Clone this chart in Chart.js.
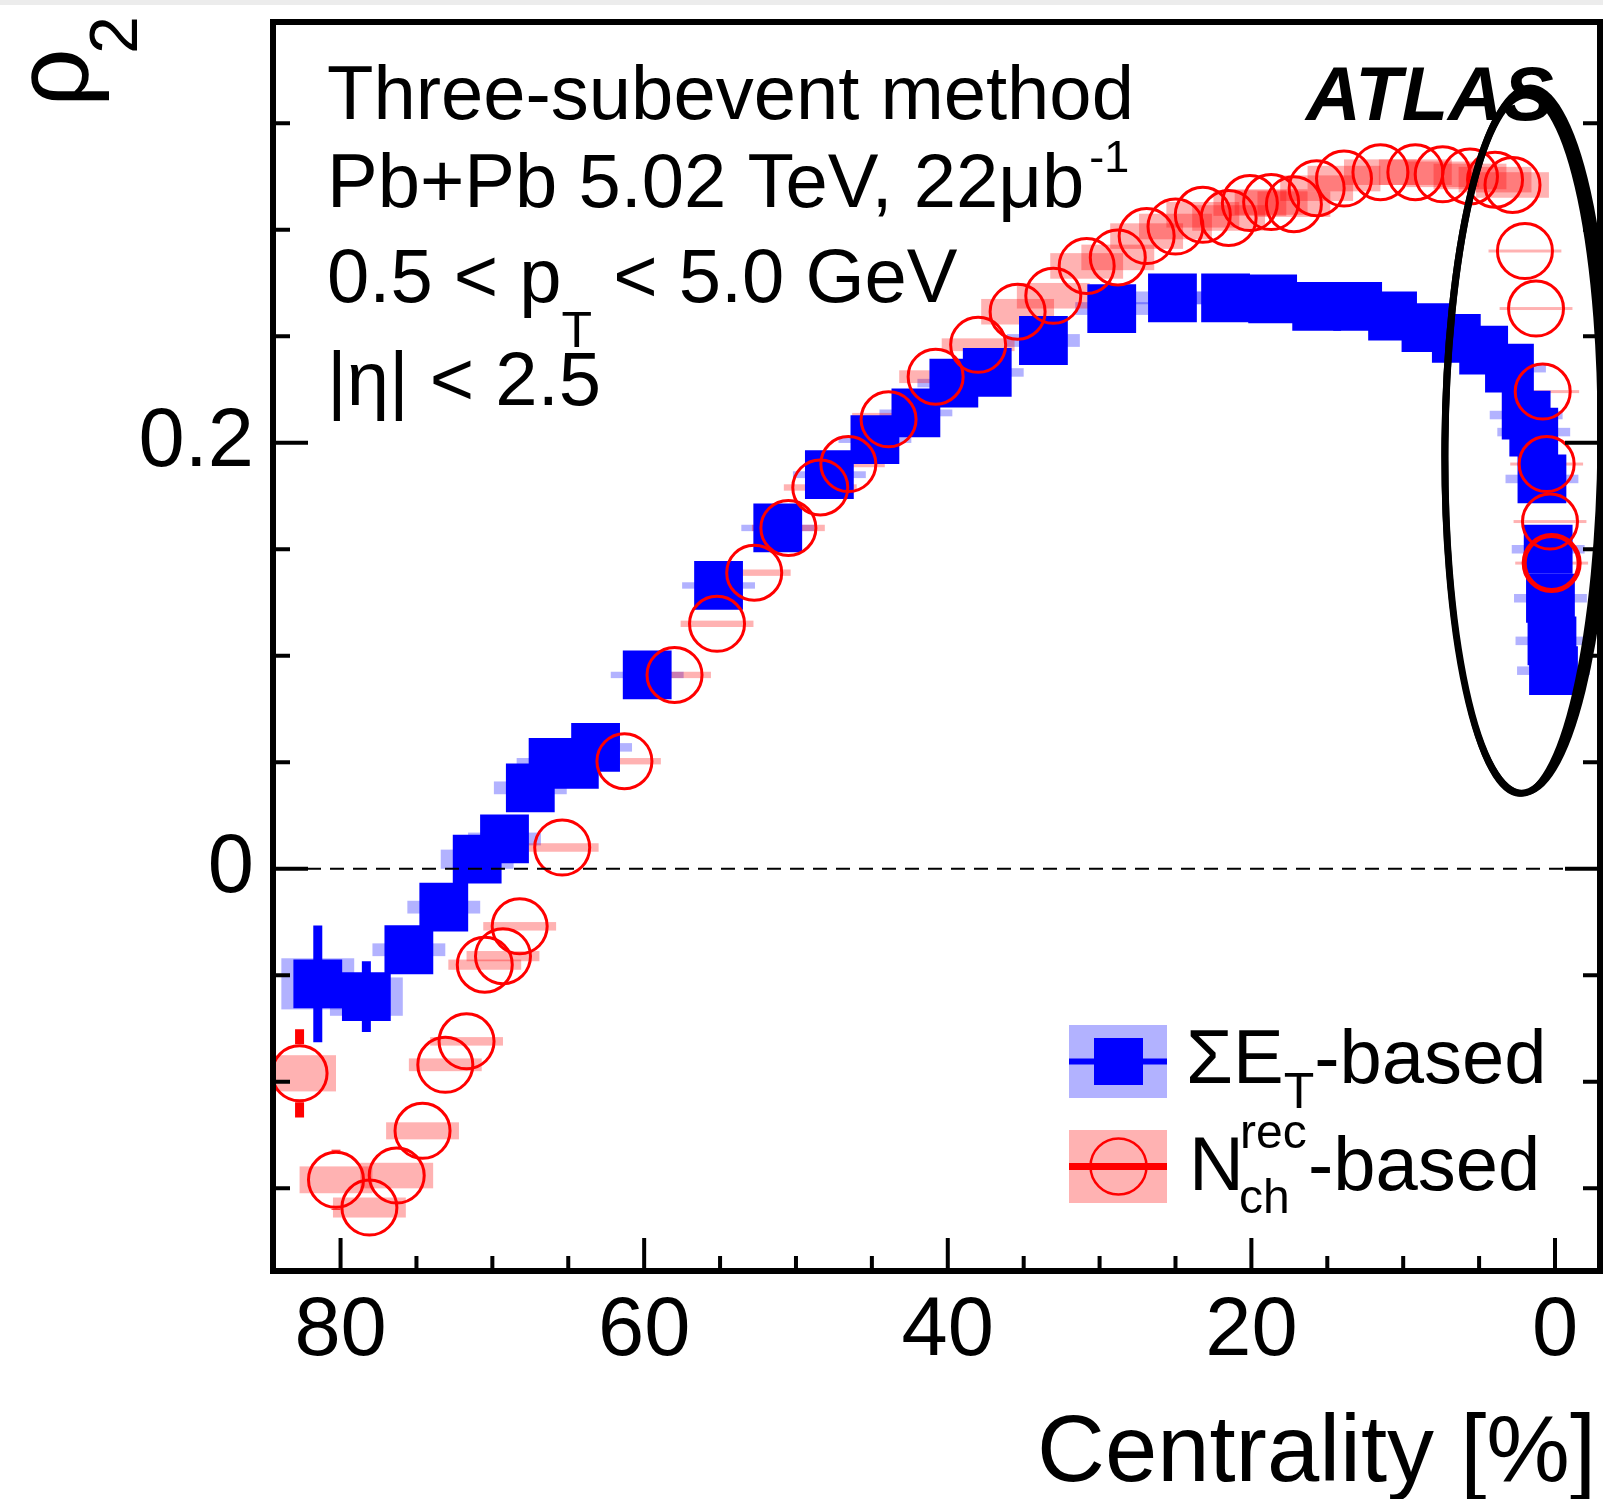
<!DOCTYPE html>
<html lang="en">
<head>
<meta charset="UTF-8">
<title>rho2 vs centrality</title>
<style>
    html, body { margin: 0; padding: 0; background: #fff; }
    #wrap { width: 1603px; height: 1499px; position: relative; }
</style>
</head>
<body>
<div id="wrap"><canvas id="rho2" width="1603" height="1499"></canvas></div>

<script src="https://cdn.jsdelivr.net/npm/chart.js"></script>
<script>
// ---- data ----
// Sum ET based centrality
var etCent = [81.5, 78.3, 75.5, 73.2, 71.0, 69.2, 67.5, 66.0, 64.6, 63.2,
              59.8, 55.1, 51.2, 47.8, 44.8, 42.1, 39.6, 37.4, 33.7, 29.2,
              25.2, 21.7, 18.6, 15.7, 13.0, 10.7, 8.5, 6.5, 4.7, 3.0,
              1.9, 1.4, 0.86, 0.45, 0.3, 0.2, 0.1];
var etRho = [-0.054, -0.060, -0.038, -0.018, 0.0045, 0.014, 0.038, 0.050, 0.049, 0.057,
             0.091, 0.133, 0.160, 0.185, 0.2015, 0.214, 0.228, 0.233, 0.248, 0.263,
             0.268, 0.268, 0.2675, 0.264, 0.264, 0.2595, 0.254, 0.249, 0.2435, 0.235,
             0.213, 0.205, 0.183, 0.150, 0.127, 0.107, 0.093];
var etStat = [0.0274, 0.0166, 0.006, 0.005, 0.004, 0.004, 0.004, 0.004, 0.003, 0.003,
              0.003, 0.003, 0.003, 0.003, 0.003, 0.003, 0.003, 0.003, 0.003, 0.003,
              0.003, 0.003, 0.003, 0.003, 0.003, 0.003, 0.003, 0.003, 0.003, 0.003,
              0.003, 0.003, 0.003, 0.004, 0.004, 0.004, 0.004];
var etSys = [0.012, 0.009, 0.003, 0.003, 0.0045, 0.003, 0.003, 0.002, 0.002, 0.002,
             0.0015, 0.0015, 0.0015, 0.0016, 0.0016, 0.0016, 0.002, 0.002, 0.003, 0.003,
             0.003, 0.003, 0.003, 0.003, 0.003, 0.003, 0.003, 0.002, 0.002, 0.002,
             0.002, 0.002, 0.002, 0.002, 0.002, 0.002, 0.002];

// Nch(rec) based centrality
var nchCent = [82.7, 80.3, 78.1, 76.3, 74.6, 73.1, 71.7, 70.5, 69.3, 68.2,
               65.4, 61.3, 58.0, 55.2, 52.75, 50.5, 48.4, 46.55, 43.9, 40.8,
               38.0, 35.4, 33.05, 30.85, 28.8, 26.9, 25.0, 23.2, 21.5, 20.1,
               18.7, 17.2, 15.7, 13.9, 11.5, 9.2, 7.4, 5.6, 3.95, 2.8,
               1.98, 1.25, 0.81, 0.55, 0.33, 0.22];
var nchRho = [-0.096, -0.146, -0.159, -0.144, -0.123, -0.092, -0.081, -0.045, -0.041, -0.027,
              0.010, 0.0505, 0.091, 0.115, 0.139, 0.160, 0.179, 0.190, 0.211, 0.231,
              0.246, 0.2615, 0.269, 0.283, 0.287, 0.297, 0.3015, 0.307, 0.3055, 0.3125,
              0.313, 0.312, 0.3195, 0.324, 0.327, 0.327, 0.326, 0.325, 0.3235, 0.321,
              0.290, 0.263, 0.224, 0.190, 0.163, 0.1435];
var nchStat = [0.0207, 0.0141, 0.010, 0.008, 0.007, 0.006, 0.006, 0.005, 0.005, 0.005,
               0.004, 0.004, 0.004, 0.003, 0.003, 0.003, 0.003, 0.003, 0.003, 0.003,
               0.003, 0.003, 0.003, 0.003, 0.003, 0.003, 0.003, 0.003, 0.003, 0.003,
               0.003, 0.003, 0.003, 0.003, 0.003, 0.003, 0.003, 0.003, 0.003, 0.003,
               0.004, 0.004, 0.004, 0.004, 0.004, 0.004];
var nchSys = [0.0085, 0.0063, 0.0047, 0.006, 0.004, 0.003, 0.002, 0.0024, 0.0024, 0.002,
              0.002, 0.0015, 0.0015, 0.0015, 0.0015, 0.0015, 0.0015, 0.0015, 0.003, 0.003,
              0.003, 0.006, 0.006, 0.006, 0.006, 0.006, 0.006, 0.006, 0.006, 0.006,
              0.006, 0.006, 0.006, 0.006, 0.006, 0.006, 0.006, 0.006, 0.006, 0.006,
              0.0007, 0.0007, 0.0007, 0.0007, 0.0007, 0.0007];

var sysHalfWidth = 2.4;            // centrality units
var xMajorTicks = [80, 60, 40, 20, 0];
var yMajorTicks = [0, 0.2];
var xMinorStep = 5;
var yMinorStep = 0.05;

// hand drawn ring around the most central points (centre and half axes in data units)
var ringCent = 1.98, ringRho = 0.2003, ringHalfCent = 5.27, ringHalfRho = 0.1648;

var FONT = '"Liberation Sans", Arial, Helvetica, sans-serif';
var BLUE = '#0000ff', RED = '#ff0000';

function toPoints(xs, ys) {
    var out = [];
    for (var i = 0; i < xs.length; i++) out.push({ x: xs[i], y: ys[i] });
    return out;
}

function drawSys(ctx, sx, sy, cents, rhos, sys, color) {
    ctx.fillStyle = color;
    for (var i = 0; i < cents.length; i++) {
        var a = sx.getPixelForValue(cents[i] + sysHalfWidth);
        var b = sx.getPixelForValue(cents[i] - sysHalfWidth);
        var t = sy.getPixelForValue(rhos[i] + sys[i]);
        var u = sy.getPixelForValue(rhos[i] - sys[i]);
        ctx.fillRect(Math.min(a, b), t, Math.abs(b - a), Math.max(u - t, 2));
    }
}

function drawStat(ctx, sx, sy, cents, rhos, stat, color, gap) {
    ctx.strokeStyle = color;
    ctx.lineWidth = 9;
    for (var i = 0; i < cents.length; i++) {
        var px = sx.getPixelForValue(cents[i]);
        var py = sy.getPixelForValue(rhos[i]);
        var top = sy.getPixelForValue(rhos[i] + stat[i]);
        var bot = sy.getPixelForValue(rhos[i] - stat[i]);
        if (py - top <= gap) continue;
        ctx.beginPath();
        ctx.moveTo(px, top); ctx.lineTo(px, py - gap);
        ctx.moveTo(px, py + gap); ctx.lineTo(px, bot);
        ctx.stroke();
    }
}

// text pieces: [string, size, dy, dx] written one after another
function drawRich(ctx, x, y, pieces) {
    for (var i = 0; i < pieces.length; i++) {
        ctx.font = pieces[i][1] + 'px ' + FONT;
        var dx = pieces[i][3] || 0;
        ctx.fillText(pieces[i][0], x + dx, y + pieces[i][2]);
        x += dx + ctx.measureText(pieces[i][0]).width;
    }
}

var rootStyle = {
    id: 'rootStyle',
    beforeDraw: function (chart) {
        var ctx = chart.ctx;
        ctx.save();
        ctx.fillStyle = '#fff';
        ctx.fillRect(0, 0, chart.width, chart.height);
        ctx.fillStyle = '#ececec';
        ctx.fillRect(0, 0, chart.width, 5);
        ctx.restore();
    },
    beforeDatasetsDraw: function (chart) {
        var ctx = chart.ctx, a = chart.chartArea;
        var sx = chart.scales.x, sy = chart.scales.y;
        ctx.save();
        ctx.beginPath();
        ctx.rect(a.left, a.top, a.right - a.left, a.bottom - a.top);
        ctx.clip();
        drawSys(ctx, sx, sy, etCent, etRho, etSys, 'rgba(0,0,255,0.3)');
        drawSys(ctx, sx, sy, nchCent, nchRho, nchSys, 'rgba(255,0,0,0.3)');
        drawStat(ctx, sx, sy, etCent, etRho, etStat, BLUE, 0);
        drawStat(ctx, sx, sy, nchCent, nchRho, nchStat, RED, 29);
        ctx.restore();
    },
    afterDatasetsDraw: function (chart) {
        var ctx = chart.ctx, a = chart.chartArea;
        var sx = chart.scales.x, sy = chart.scales.y;
        ctx.save();
        // zero line
        var y0 = sy.getPixelForValue(0);
        ctx.strokeStyle = '#000';
        ctx.lineWidth = 2;
        ctx.setLineDash([14, 9]);
        ctx.beginPath();
        ctx.moveTo(a.left + 34, y0);
        ctx.lineTo(a.right, y0);
        ctx.stroke();
        ctx.setLineDash([]);
        // ring, a few strokes so it looks hand drawn
        var cx = sx.getPixelForValue(ringCent), cy = sy.getPixelForValue(ringRho);
        var rx = Math.abs(sx.getPixelForValue(ringCent + ringHalfCent) - cx);
        var ry = Math.abs(sy.getPixelForValue(ringRho + ringHalfRho) - cy);
        var wob = [[0, 0, 0, 0, 7], [2, -2, 3, 2, 5], [-2, 3, -3, -2, 5]];
        for (var k = 0; k < wob.length; k++) {
            ctx.lineWidth = wob[k][4];
            ctx.beginPath();
            ctx.ellipse(cx + wob[k][0], cy + wob[k][1], rx + wob[k][2], ry + wob[k][3], 0.01, 0, Math.PI * 2);
            ctx.stroke();
        }
        ctx.restore();
    },
    afterDraw: function (chart) {
        var ctx = chart.ctx, a = chart.chartArea;
        var sx = chart.scales.x, sy = chart.scales.y;
        var i, v, p, len;
        ctx.save();
        ctx.strokeStyle = '#000';
        ctx.fillStyle = '#000';

        // ticks (inside, ROOT style)
        ctx.lineWidth = 4;
        ctx.beginPath();
        for (i = 0; i * xMinorStep <= 85; i++) {
            v = i * xMinorStep;
            p = sx.getPixelForValue(v);
            if (p < a.left || p > a.right) continue;
            len = xMajorTicks.indexOf(v) >= 0 ? 33 : 15;
            ctx.moveTo(p, a.bottom); ctx.lineTo(p, a.bottom - len);
        }
        for (i = -4; i <= 8; i++) {
            v = Math.round(i * yMinorStep * 100) / 100;
            p = sy.getPixelForValue(v);
            if (p < a.top || p > a.bottom) continue;
            len = yMajorTicks.indexOf(v) >= 0 ? 35 : 17;
            ctx.moveTo(a.left, p); ctx.lineTo(a.left + len, p);
            ctx.moveTo(a.right, p); ctx.lineTo(a.right - len, p);
        }
        ctx.stroke();

        // frame
        ctx.lineWidth = 6;
        ctx.strokeRect(a.left, a.top, a.right - a.left, a.bottom - a.top);

        // axis titles
        ctx.textBaseline = 'alphabetic';
        ctx.textAlign = 'right';
        ctx.font = '94px ' + FONT;
        ctx.fillText('Centrality [%]', 1596, 1481);

        ctx.save();
        ctx.translate(87, 107);
        ctx.rotate(-Math.PI / 2);
        ctx.textAlign = 'left';
        ctx.font = '103px ' + FONT;
        ctx.fillText('\u03c1', 0, 0);
        ctx.font = '68px ' + FONT;
        ctx.fillText('2', 53, 50);
        ctx.restore();

        // labels in the plot
        ctx.textAlign = 'left';
        ctx.font = '76px ' + FONT;
        ctx.fillText('Three-subevent method', 327, 119);
        drawRich(ctx, 327, 207, [['Pb+Pb 5.02 TeV, 22\u03bcb', 76, 0], ['-1', 45, -35, 5]]);
        drawRich(ctx, 327, 302, [['0.5 < p', 76, 0], ['T', 50, 45], [' < 5.0 GeV', 76, 0]]);
        ctx.font = '76px ' + FONT;
        ctx.fillText('|\u03b7| < 2.5', 327, 405);
        ctx.font = 'italic bold 76px ' + FONT;
        ctx.fillText('ATLAS', 1306, 120);

        // legend
        ctx.fillStyle = 'rgba(0,0,255,0.3)';
        ctx.fillRect(1069, 1025, 98, 73);
        ctx.strokeStyle = BLUE;
        ctx.lineWidth = 6;
        ctx.beginPath(); ctx.moveTo(1069, 1061.5); ctx.lineTo(1167, 1061.5); ctx.stroke();
        ctx.fillStyle = BLUE;
        ctx.fillRect(1094, 1038, 49, 47);

        ctx.fillStyle = 'rgba(255,0,0,0.3)';
        ctx.fillRect(1069, 1130, 98, 73);
        ctx.strokeStyle = RED;
        ctx.lineWidth = 7;
        ctx.beginPath(); ctx.moveTo(1069, 1166.5); ctx.lineTo(1167, 1166.5); ctx.stroke();
        ctx.lineWidth = 2.5;
        ctx.beginPath(); ctx.arc(1118.5, 1166.5, 28, 0, Math.PI * 2); ctx.stroke();

        ctx.fillStyle = '#000';
        drawRich(ctx, 1186, 1083, [['\u03a3E', 76, 0], ['T', 50, 25], ['-based', 76, 0]]);
        ctx.font = '76px ' + FONT;
        ctx.fillText('N', 1189, 1190);
        ctx.font = '48px ' + FONT;
        ctx.fillText('rec', 1240, 1148);
        ctx.fillText('ch', 1239, 1213);
        ctx.font = '76px ' + FONT;
        ctx.fillText('-based', 1308, 1190);

        ctx.restore();
    }
};

var tickFont = { family: '"Liberation Sans", Arial, sans-serif', size: 83 };

function noPad(s) {
    s.paddingTop = 0; s.paddingBottom = 0; s.paddingLeft = 0; s.paddingRight = 0;
}

new Chart(document.getElementById('rho2').getContext('2d'), {
    type: 'scatter',
    data: {
        datasets: [{
            label: 'Nch-based',
            data: toPoints(nchCent, nchRho),
            order: 0,
            pointStyle: 'circle',
            pointRadius: 27.5,
            pointBackgroundColor: 'rgba(0,0,0,0)',
            pointBorderColor: RED,
            pointBorderWidth: function (c) { return c.dataIndex === nchCent.length - 1 ? 5 : 3; }
        }, {
            label: 'SumET-based',
            data: toPoints(etCent, etRho),
            order: 1,
            pointStyle: 'rect',
            pointRadius: 34.5,
            pointBackgroundColor: BLUE,
            pointBorderWidth: 0
        }]
    },
    options: {
        responsive: false,
        devicePixelRatio: 1,
        animation: false,
        events: [],
        layout: { autoPadding: false, padding: { left: 0, right: 3, top: 22, bottom: 0 } },
        plugins: { legend: { display: false }, tooltip: { enabled: false } },
        scales: {
            x: {
                type: 'linear',
                reverse: true,
                min: -2.964,
                max: 84.45,
                grid: { display: false, drawTicks: false },
                border: { display: false },
                ticks: {
                    stepSize: 5,
                    includeBounds: false,
                    autoSkip: false,
                    maxRotation: 0,
                    padding: 11,
                    color: '#000',
                    font: tickFont,
                    callback: function (v) { return xMajorTicks.indexOf(v) >= 0 ? String(v) : ''; }
                },
                afterFit: function (s) { s.height = 228; noPad(s); }
            },
            y: {
                type: 'linear',
                min: -0.1888,
                max: 0.3975,
                grid: { display: false, drawTicks: false },
                border: { display: false },
                ticks: {
                    stepSize: 0.05,
                    includeBounds: false,
                    autoSkip: false,
                    padding: 19,
                    color: '#000',
                    font: tickFont,
                    callback: function (v) {
                        for (var k = 0; k < yMajorTicks.length; k++) {
                            if (Math.abs(v - yMajorTicks[k]) < 1e-9) return String(yMajorTicks[k]);
                        }
                        return '';
                    }
                },
                afterFit: function (s) { s.width = 273; noPad(s); }
            }
        }
    },
    plugins: [rootStyle]
});
</script>
</body>
</html>
